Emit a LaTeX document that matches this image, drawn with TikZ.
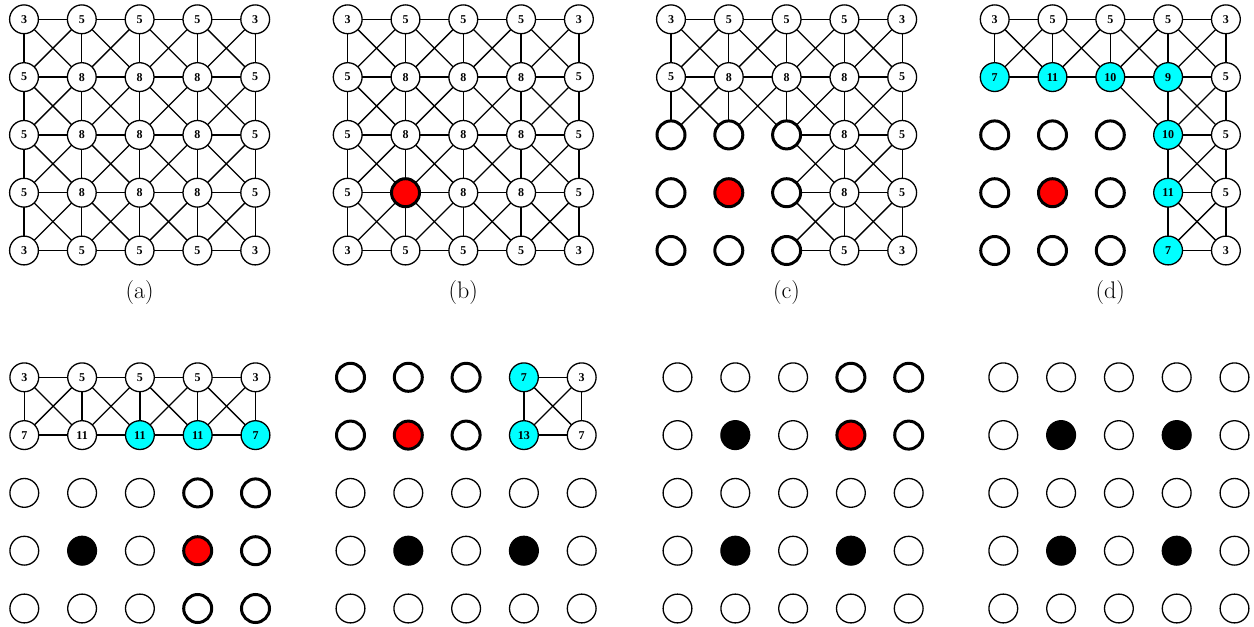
\documentclass[tikz,border=0pt]{standalone}
\usepackage{fontspec}
\newfontfamily\lbfont{Liberation Serif}
\definecolor{mycyan}{RGB}{0,255,255}
\definecolor{myred}{RGB}{255,0,0}
\tikzset{
  nbase/.style={circle,inner sep=0pt,outer sep=0pt,font=\lbfont\bfseries\fontsize{12}{13}\selectfont},
  nv/.style={nbase,draw=black,fill=white,line width=1.3pt,minimum size=28.8pt},
  ncy/.style={nbase,draw=black,fill=mycyan,line width=1.3pt,minimum size=28.8pt},
  nrm/.style={nbase,draw=black,fill=white,line width=3pt,minimum size=28pt},
  nred/.style={nbase,draw=black,fill=myred,line width=3pt,minimum size=28pt},
  nblk/.style={nbase,draw=black,fill=black,line width=1.3pt,minimum size=28.8pt},
  edge/.style={line width=1.3pt,draw=black},
  plabel/.style={font=\fontsize{24}{28}\selectfont,inner sep=0pt}
}
\newcommand\mkrow[5]{%
  \foreach[count=\ci from 0] \st/\tx in {#5}{%
    \node[\st] (#1-#4-\ci) at ({#2+\ci*57.8},{#3+#4*57.8}) {\tx};
  }}
\newcommand\kingedges[2]{%
  \foreach \ra in {0,...,4}{\foreach \ca in {0,...,4}{%
    \foreach \dr/\dc in {0/1,1/0,1/1,1/-1}{%
      \pgfmathtruncatemacro\rb{\ra+\dr}%
      \pgfmathtruncatemacro\cb{\ca+\dc}%
      \pgfmathtruncatemacro\ok{(\rb<=4)&&(\cb>=0)&&(\cb<=4)&&(#2)}%
      \ifnum\ok=1 \draw[edge] (#1-\ra-\ca) -- (#1-\rb-\cb);\fi
    }}}}
\begin{document}
\begin{tikzpicture}[x=1pt,y=-1pt]
\useasboundingbox[fill=white] (0,0) rectangle (1254,627);
% ---------- (a)
\def\X{24}\def\Y{19.3}
\mkrow{a}{\X}{\Y}{0}{nv/3,nv/5,nv/5,nv/5,nv/3}
\mkrow{a}{\X}{\Y}{1}{nv/5,nv/8,nv/8,nv/8,nv/5}
\mkrow{a}{\X}{\Y}{2}{nv/5,nv/8,nv/8,nv/8,nv/5}
\mkrow{a}{\X}{\Y}{3}{nv/5,nv/8,nv/8,nv/8,nv/5}
\mkrow{a}{\X}{\Y}{4}{nv/3,nv/5,nv/5,nv/5,nv/3}
\kingedges{a}{1}
\node[plabel] (la) at ({\X+2*57.8},293) {(a)};
% ---------- (b)
\def\X{347.7}
\mkrow{b}{\X}{\Y}{0}{nv/3,nv/5,nv/5,nv/5,nv/3}
\mkrow{b}{\X}{\Y}{1}{nv/5,nv/8,nv/8,nv/8,nv/5}
\mkrow{b}{\X}{\Y}{2}{nv/5,nv/8,nv/8,nv/8,nv/5}
\mkrow{b}{\X}{\Y}{3}{nv/5,nred/{},nv/8,nv/8,nv/5}
\mkrow{b}{\X}{\Y}{4}{nv/3,nv/5,nv/5,nv/5,nv/3}
\kingedges{b}{1}
\node[plabel] (lb) at ({\X+2*57.8},293) {(b)};
% ---------- (c)
\def\X{671}
\mkrow{c}{\X}{\Y}{0}{nv/3,nv/5,nv/5,nv/5,nv/3}
\mkrow{c}{\X}{\Y}{1}{nv/5,nv/8,nv/8,nv/8,nv/5}
\mkrow{c}{\X}{\Y}{2}{nrm/{},nrm/{},nrm/{},nv/8,nv/5}
\mkrow{c}{\X}{\Y}{3}{nrm/{},nred/{},nrm/{},nv/8,nv/5}
\mkrow{c}{\X}{\Y}{4}{nrm/{},nrm/{},nrm/{},nv/5,nv/3}
\kingedges{c}{1-((\ra>=2)&&(\ca<=2)&&(\rb>=2)&&(\cb<=2))}
\node[plabel] (lc) at ({\X+2*57.8},293) {(c)};
% ---------- (d)
\def\X{994.7}
\mkrow{d}{\X}{\Y}{0}{nv/3,nv/5,nv/5,nv/5,nv/3}
\mkrow{d}{\X}{\Y}{1}{ncy/7,ncy/11,ncy/10,ncy/9,nv/5}
\mkrow{d}{\X}{\Y}{2}{nrm/{},nrm/{},nrm/{},ncy/10,nv/5}
\mkrow{d}{\X}{\Y}{3}{nrm/{},nred/{},nrm/{},ncy/11,nv/5}
\mkrow{d}{\X}{\Y}{4}{nrm/{},nrm/{},nrm/{},ncy/7,nv/3}
\kingedges{d}{((\ra<2)||(\ca>2))&&((\rb<2)||(\cb>2))}
\node[plabel] (ld) at ({\X+2*57.8},293) {(d)};
% ---------- (e)
\def\X{24.3}\def\Y{377.3}
\mkrow{e}{\X}{\Y}{0}{nv/3,nv/5,nv/5,nv/5,nv/3}
\mkrow{e}{\X}{\Y}{1}{nv/7,nv/11,ncy/11,ncy/11,ncy/7}
\mkrow{e}{\X}{\Y}{2}{nv/{},nv/{},nv/{},nrm/{},nrm/{}}
\mkrow{e}{\X}{\Y}{3}{nv/{},nblk/{},nv/{},nred/{},nrm/{}}
\mkrow{e}{\X}{\Y}{4}{nv/{},nv/{},nv/{},nrm/{},nrm/{}}
\kingedges{e}{\rb<=1}
% ---------- (f)
\def\X{350.5}
\mkrow{f}{\X}{\Y}{0}{nrm/{},nrm/{},nrm/{},ncy/7,nv/3}
\mkrow{f}{\X}{\Y}{1}{nrm/{},nred/{},nrm/{},ncy/13,nv/7}
\mkrow{f}{\X}{\Y}{2}{nv/{},nv/{},nv/{},nv/{},nv/{}}
\mkrow{f}{\X}{\Y}{3}{nv/{},nblk/{},nv/{},nblk/{},nv/{}}
\mkrow{f}{\X}{\Y}{4}{nv/{},nv/{},nv/{},nv/{},nv/{}}
\kingedges{f}{(\rb<=1)&&(\ca>=3)&&(\cb>=3)}
% ---------- (g)
\def\X{677.5}
\mkrow{g}{\X}{\Y}{0}{nv/{},nv/{},nv/{},nrm/{},nrm/{}}
\mkrow{g}{\X}{\Y}{1}{nv/{},nblk/{},nv/{},nred/{},nrm/{}}
\mkrow{g}{\X}{\Y}{2}{nv/{},nv/{},nv/{},nv/{},nv/{}}
\mkrow{g}{\X}{\Y}{3}{nv/{},nblk/{},nv/{},nblk/{},nv/{}}
\mkrow{g}{\X}{\Y}{4}{nv/{},nv/{},nv/{},nv/{},nv/{}}
% ---------- (h)
\def\X{1003.3}
\mkrow{h}{\X}{\Y}{0}{nv/{},nv/{},nv/{},nv/{},nv/{}}
\mkrow{h}{\X}{\Y}{1}{nv/{},nblk/{},nv/{},nblk/{},nv/{}}
\mkrow{h}{\X}{\Y}{2}{nv/{},nv/{},nv/{},nv/{},nv/{}}
\mkrow{h}{\X}{\Y}{3}{nv/{},nblk/{},nv/{},nblk/{},nv/{}}
\mkrow{h}{\X}{\Y}{4}{nv/{},nv/{},nv/{},nv/{},nv/{}}
\end{tikzpicture}
\end{document}
